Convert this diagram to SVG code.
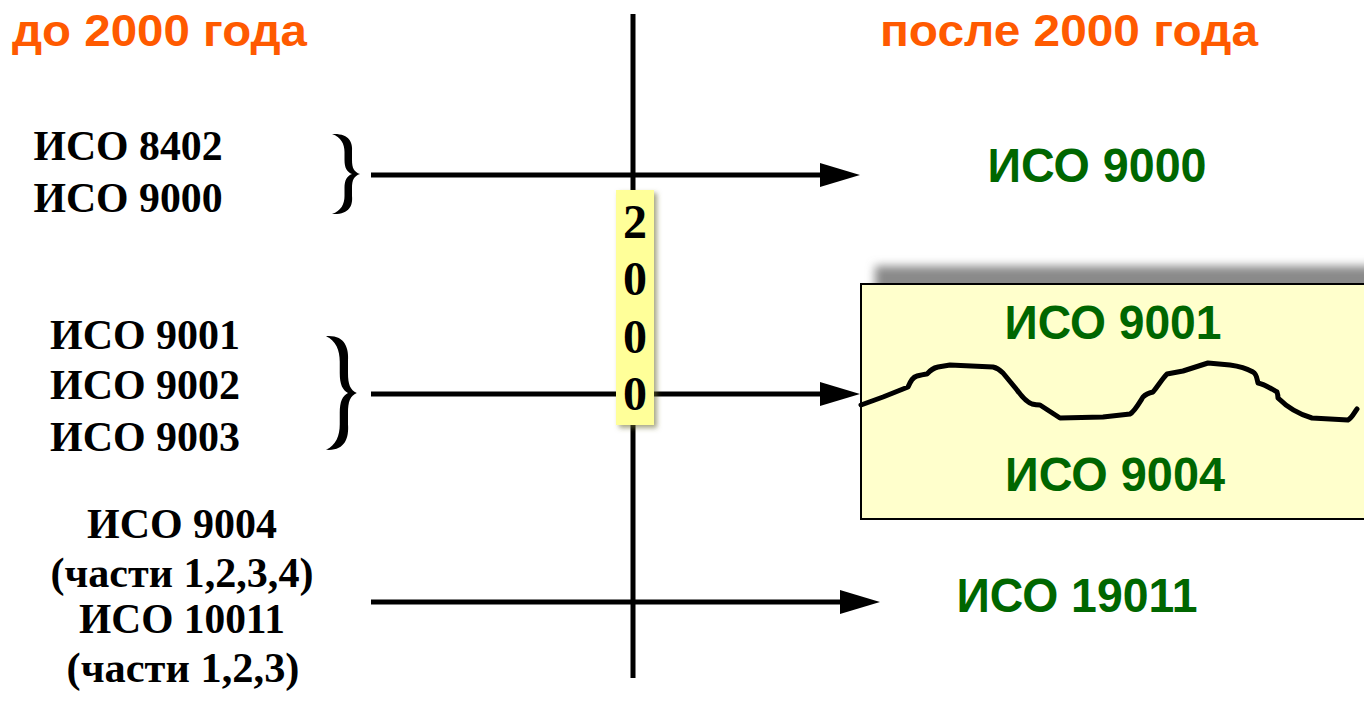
<svg xmlns="http://www.w3.org/2000/svg" width="1364" height="701" viewBox="0 0 1364 701">
  <style>
    .title { font-family: "Liberation Sans", Arial, sans-serif; font-weight: bold; font-size: 45px; fill: #FF5A00; }
    .old { font-family: "Liberation Serif", "Times New Roman", serif; font-weight: bold; font-size: 42px; fill: #000; text-anchor: middle; }
    .new { font-family: "Liberation Sans", Arial, sans-serif; font-weight: bold; font-size: 48px; fill: #006600; text-anchor: middle; }
    .digit { font-family: "Liberation Serif", "Times New Roman", serif; font-weight: bold; font-size: 48px; fill: #000; text-anchor: middle; }
    .line { stroke: #000; stroke-width: 5; fill: none; }
    .brace { fill: #000; }
  </style>
  <defs>
    <marker id="arrow" markerUnits="userSpaceOnUse" markerWidth="40" markerHeight="24" refX="0" refY="12" orient="auto">
      <path d="M0,0 L40,12 L0,24 Z" fill="#000"/>
    </marker>
    <!-- right-facing curly brace, tip at (28,0), height 80 -->
    <path id="brace" d="M0,-40 C17,-41 21,-32 20,-22 L20,-14 C20,-6 22,-2 28,0 C22,2 20,6 20,14 L20,22 C21,32 17,41 0,40 C9,37 12.5,30 12.5,22 L12.5,14 C12.5,6 15,2 20,0 C15,-2 12.5,-6 12.5,-14 L12.5,-22 C12.5,-30 9,-37 0,-40 Z"/>
    <filter id="blur" x="-10%" y="-20%" width="120%" height="140%">
      <feGaussianBlur stdDeviation="5"/>
    </filter>
    <filter id="tagShadow" x="-30%" y="-10%" width="160%" height="120%">
      <feDropShadow dx="3" dy="3" stdDeviation="2.5" flood-color="#6b6b30" flood-opacity="0.6"/>
    </filter>
  </defs>

  <!-- headings -->
  <g id="heading-before">
    <text class="title" x="12" y="46" textLength="295" lengthAdjust="spacingAndGlyphs">до 2000 года</text>
  </g>
  <g id="heading-after">
    <text class="title" x="880" y="46" textLength="378" lengthAdjust="spacingAndGlyphs">после 2000 года</text>
  </g>

  <!-- connectors: time axis and the three transitions -->
  <g id="connectors">
    <line class="line" x1="633" y1="14" x2="633" y2="678"/>
    <line class="line" x1="371" y1="175" x2="820" y2="175" marker-end="url(#arrow)"/>
    <line class="line" x1="371" y1="394" x2="820" y2="394" marker-end="url(#arrow)"/>
    <line class="line" x1="371" y1="602" x2="840" y2="602" marker-end="url(#arrow)"/>
  </g>

  <!-- standards before 2000 -->
  <g id="old-8402-9000">
    <text class="old" x="128" y="160" textLength="189" lengthAdjust="spacingAndGlyphs">ИСО 8402</text>
    <text class="old" x="128" y="212" textLength="189" lengthAdjust="spacingAndGlyphs">ИСО 9000</text>
  </g>
  <g id="brace-top">
    <use href="#brace" class="brace" transform="translate(332,174)"/>
  </g>

  <g id="old-9001-9003">
    <text class="old" x="145" y="349" textLength="190" lengthAdjust="spacingAndGlyphs">ИСО 9001</text>
    <text class="old" x="145" y="399" textLength="190" lengthAdjust="spacingAndGlyphs">ИСО 9002</text>
    <text class="old" x="145" y="451" textLength="190" lengthAdjust="spacingAndGlyphs">ИСО 9003</text>
  </g>
  <g id="brace-middle">
    <use href="#brace" class="brace" transform="translate(326,393) scale(1.1,1.42)"/>
  </g>

  <g id="old-9004-10011">
    <text class="old" x="182" y="538" textLength="190" lengthAdjust="spacingAndGlyphs">ИСО 9004</text>
    <text class="old" x="182" y="587" textLength="263" lengthAdjust="spacingAndGlyphs">(части 1,2,3,4)</text>
    <text class="old" x="182" y="633" textLength="206" lengthAdjust="spacingAndGlyphs">ИСО 10011</text>
    <text class="old" x="183" y="682" textLength="233" lengthAdjust="spacingAndGlyphs">(части 1,2,3)</text>
  </g>

  <!-- year marker on the axis -->
  <g id="year-2000">
    <rect x="616" y="190" width="38" height="235" fill="#FFFF99" filter="url(#tagShadow)"/>
    <text class="digit" x="635" y="238">2</text>
    <text class="digit" x="635" y="295">0</text>
    <text class="digit" x="635" y="353">0</text>
    <text class="digit" x="635" y="410">0</text>
  </g>

  <!-- standards after 2000 -->
  <g id="new-9000">
    <text class="new" x="1097" y="182" textLength="219" lengthAdjust="spacingAndGlyphs">ИСО 9000</text>
  </g>

  <g id="new-9001-9004">
    <rect x="875" y="266" width="520" height="230" fill="#8a8a8a" filter="url(#blur)"/>
    <rect x="861" y="284" width="520" height="235" fill="#FFFFCC" stroke="#000" stroke-width="2"/>
    <text class="new" x="1113" y="339" textLength="217" lengthAdjust="spacingAndGlyphs">ИСО 9001</text>
    <text class="new" x="1115" y="491" textLength="220" lengthAdjust="spacingAndGlyphs">ИСО 9004</text>
    <path fill="none" stroke="#000" stroke-width="5" stroke-linejoin="round" stroke-linecap="round"
          d="M861,405 L883,397 L908,387 C911,380 913,377 917,376 C922,375 925,374 927,374 C931,370 933,368 938,367 L950,365 L993,367 C998,368 1000,370 1003,373 L1017,390 C1022,397 1026,402 1032,404 C1036,405 1038,405 1040,405 L1060,418 L1103,417 L1130,414 C1134,412 1138,405 1143,397 C1146,394 1149,393 1153,392 C1158,386 1162,379 1167,374 L1183,371 L1208,363 L1230,365 C1238,366 1246,368 1253,372 C1257,374 1257,380 1258,383 C1264,384 1272,389 1277,392 C1278,395 1278,397 1278,398 C1286,406 1298,414 1312,418 L1348,420 C1352,418 1354,413 1357,409"/>
  </g>

  <g id="new-19011">
    <text class="new" x="1077" y="612" textLength="241" lengthAdjust="spacingAndGlyphs">ИСО 19011</text>
  </g>
</svg>
